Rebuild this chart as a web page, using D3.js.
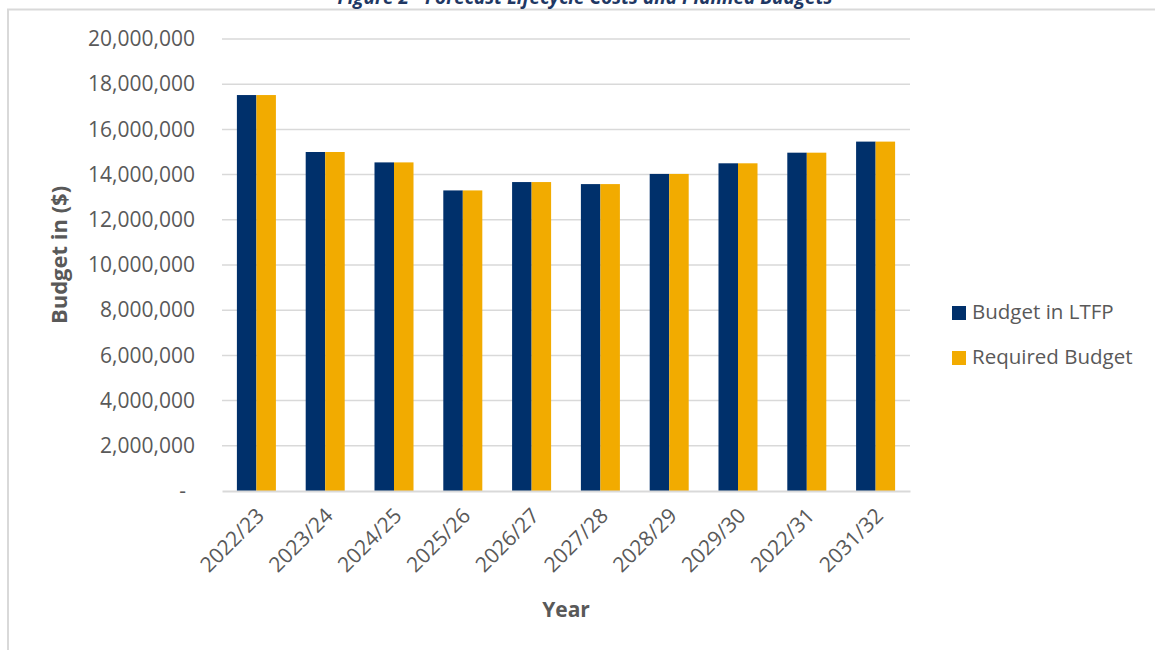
<!DOCTYPE html>
<html>
<head>
<meta charset="utf-8">
<script src="https://cdn.jsdelivr.net/npm/d3@7"></script>
<style>
	body { margin: 0; background: #fff; }
	text { font-family: "Open Sans", sans-serif; }
</style>
</head>
<body>
<div id="chart"></div>
<script>
// data
const years = ['2022/23', '2023/24', '2024/25', '2025/26', '2026/27', '2027/28', '2028/29', '2029/30', '2022/31', '2031/32'];
const budgetLTFP = [17520000, 15000000, 14540000, 13300000, 13670000, 13580000, 14030000, 14500000, 14970000, 15460000];
const requiredBudget = [17520000, 15000000, 14540000, 13300000, 13670000, 13580000, 14030000, 14500000, 14970000, 15460000];
const seriesNames = ['Budget in LTFP', 'Required Budget'];
const yTicks = [0, 2000000, 4000000, 6000000, 8000000, 10000000, 12000000, 14000000, 16000000, 18000000, 20000000];

const width = 1155, height = 650;
const margin = { top: 39, right: 245, bottom: 159, left: 222 };
const colors = ['#00306b', '#f2ab00'];

let svg = d3.select('#chart').append('svg')
	.attr('width', width)
	.attr('height', height);

// frame lines of the clipped figure
svg.append('line')
	.attr('x1', 7).attr('x2', width).attr('y1', 9.5).attr('y2', 9.5)
	.attr('stroke', '#d9d9d9').attr('stroke-width', 2);
svg.append('line')
	.attr('x1', 8).attr('x2', 8).attr('y1', 9).attr('y2', height)
	.attr('stroke', '#d9d9d9').attr('stroke-width', 2);

// title, cut off at the top as in the source image
svg.append('text')
	.attr('x', 585)
	.attr('y', 4)
	.attr('text-anchor', 'middle')
	.attr('font-size', 19)
	.attr('font-weight', 'bold')
	.attr('font-style', 'italic')
	.attr('fill', '#1f3864')
	.text('Figure 2 - Forecast Lifecycle Costs and Planned Budgets');

let x0 = d3.scaleBand()
	.domain(years)
	.range([margin.left, width - margin.right])
	.paddingInner(0.433)
	.paddingOuter(0.2165);
let x1 = d3.scaleBand()
	.domain(seriesNames)
	.range([0, x0.bandwidth()]);
let y = d3.scaleLinear()
	.domain([0, 20000000])
	.range([height - margin.bottom, margin.top]);

// gridlines
svg.append('g')
	.attr('class', 'grid')
	.selectAll('line')
	.data(yTicks.filter(d => d > 0))
	.join('line')
	.attr('x1', margin.left)
	.attr('x2', width - margin.right)
	.attr('y1', d => y(d))
	.attr('y2', d => y(d))
	.attr('stroke', '#d9d9d9')
	.attr('stroke-width', 1.5);

// y axis labels
let fmt = d3.format(',');
let axisY = d3.axisLeft(y).tickValues(yTicks).tickSize(0).tickPadding(27)
	.tickFormat(d => d === 0 ? '-' : fmt(d));
let gy = svg.append('g')
	.attr('transform', `translate(${margin.left},0)`)
	.call(axisY);
gy.select('.domain').remove();
gy.selectAll('text')
	.attr('font-family', '"Open Sans", sans-serif')
	.attr('font-size', 21)
	.attr('fill', '#595959');
gy.selectAll('.tick').filter(d => d === 0).select('text')
	.attr('dx', -9);

// bars
let rows = years.map((yr, i) => ({ year: yr, values: [budgetLTFP[i], requiredBudget[i]] }));
svg.append('g')
	.selectAll('g')
	.data(rows)
	.join('g')
	.attr('transform', d => `translate(${x0(d.year)},0)`)
	.selectAll('rect')
	.data(d => d.values.map((v, k) => ({ key: seriesNames[k], value: v, k })))
	.join('rect')
	.attr('x', d => x1(d.key))
	.attr('width', x1.bandwidth())
	.attr('y', d => y(d.value))
	.attr('height', d => y(0) - y(d.value))
	.attr('fill', d => colors[d.k]);

// x axis
let axisX = d3.axisBottom(x0).tickSize(0).tickPadding(0);
let gx = svg.append('g')
	.attr('transform', `translate(0,${y(0)})`)
	.call(axisX);
gx.select('.domain')
	.attr('stroke', '#d9d9d9')
	.attr('stroke-width', 2);
gx.selectAll('text')
	.attr('font-family', '"Open Sans", sans-serif')
	.attr('font-size', 21)
	.attr('fill', '#595959')
	.attr('text-anchor', 'end')
	.attr('dy', 0)
	.attr('transform', 'translate(9,26) rotate(-45)');

// axis titles
svg.append('text')
	.attr('x', (margin.left + width - margin.right) / 2)
	.attr('y', 617)
	.attr('text-anchor', 'middle')
	.attr('font-size', 21)
	.attr('font-weight', 'bold')
	.attr('fill', '#595959')
	.text('Year');
svg.append('text')
	.attr('transform', 'translate(67,255) rotate(-90)')
	.attr('text-anchor', 'middle')
	.attr('font-size', 22)
	.attr('font-weight', 'bold')
	.attr('fill', '#595959')
	.text('Budget in ($)');

// legend
let legend = svg.append('g')
	.selectAll('g')
	.data(seriesNames)
	.join('g')
	.attr('transform', (d, i) => `translate(952,${306 + i * 45})`);
legend.append('rect')
	.attr('width', 14)
	.attr('height', 14)
	.attr('fill', (d, i) => colors[i]);
legend.append('text')
	.attr('x', 20)
	.attr('y', 13)
	.attr('font-size', 20.5)
	.attr('fill', '#595959')
	.text(d => d);
</script>
</body>
</html>
